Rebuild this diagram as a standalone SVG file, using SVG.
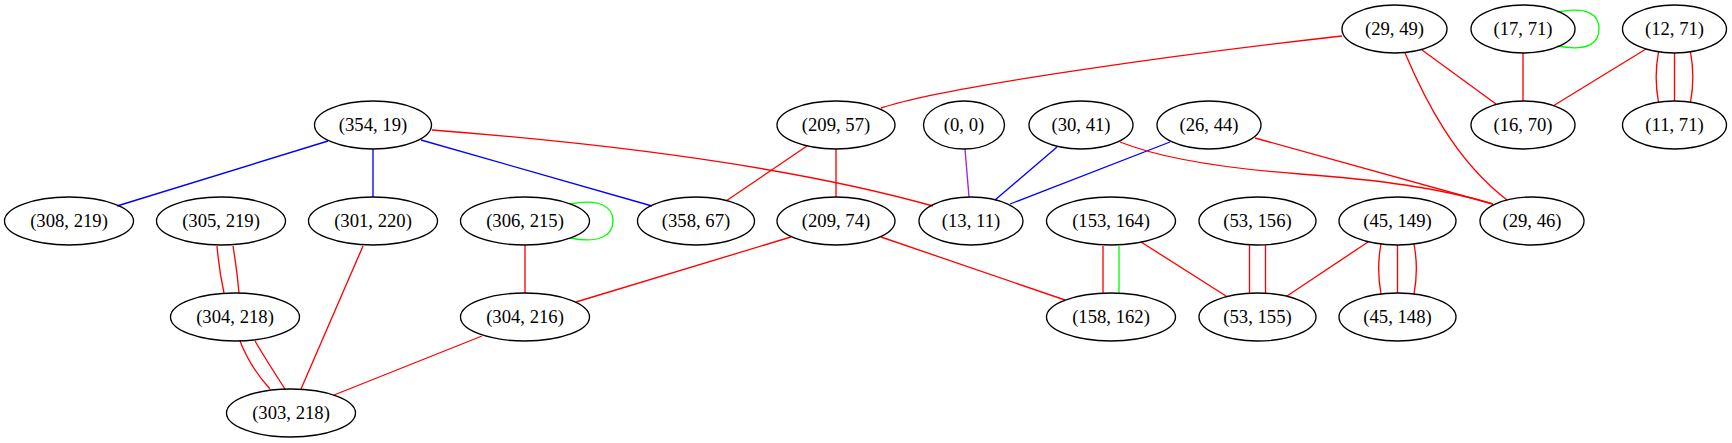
<svg xmlns="http://www.w3.org/2000/svg" width="1732" height="443" viewBox="0 0 1732 443">
<style>
.n ellipse{fill:none;stroke:#000;stroke-width:1.33}
.n text{font-family:"Liberation Serif","Times New Roman",serif;font-size:18.67px;text-anchor:middle;fill:#000}
#edges path{fill:none;stroke-width:1.33}
.r{stroke:#ff0000}
.b{stroke:#0000ff}
.g{stroke:#00ff00}
.p{stroke:#a020f0}
</style>
<rect width="1732" height="443" fill="#fff"/>
<g id="edges">
<path class="b" d="M328,141 L117,206"/>
<path class="b" d="M373,149 L373,197"/>
<path class="b" d="M421,140 L652,206"/>
<path class="r" d="M432,130 C600,143 790,166 933,206"/>
<path class="r" d="M217,246 Q219,270 224,293"/>
<path class="r" d="M233,246 Q237,270 239,293"/>
<path class="r" d="M240,341 Q250,367 270,389"/>
<path class="r" d="M255,341 Q268,363 285,389"/>
<path class="r" d="M363,246 L301,389"/>
<path class="r" d="M525,245 L525,293"/>
<path class="g" d="M570,204 C600,198 613,207 613,221 C613,235 600,244 570,238"/>
<path class="r" d="M791,237 L576,302"/>
<path class="r" d="M482,336 L334,395"/>
<path class="r" d="M1342,36 C1200,52 950,85 881,108"/>
<path class="r" d="M807,146 L726,201"/>
<path class="r" d="M836,149 L836,197"/>
<path class="p" d="M965,149 L969,197"/>
<path class="b" d="M1057,147 L995,200"/>
<path class="b" d="M1170,142 L1010,204"/>
<path class="r" d="M1120,142 C1160,158 1220,168 1300,174 C1380,180 1440,188 1493,204"/>
<path class="r" d="M1255,138 L1493,204"/>
<path class="r" d="M881,237 L1065,300"/>
<path class="r" d="M1103,246 L1103,293"/>
<path class="g" d="M1119,246 L1119,293"/>
<path class="r" d="M1141,242 L1226,296"/>
<path class="r" d="M1249.5,245 L1249.5,293"/>
<path class="r" d="M1265.5,245 L1265.5,293"/>
<path class="r" d="M1368,242 L1287,296"/>
<path class="r" d="M1381,244 C1378,260 1378,278 1381,294"/>
<path class="r" d="M1397.5,245 L1397.5,293"/>
<path class="r" d="M1414,244 C1417,260 1417,278 1414,294"/>
<path class="r" d="M1422,50 L1496,104"/>
<path class="r" d="M1405,53 C1425,100 1455,160 1507,200"/>
<path class="r" d="M1523,53 L1523,101"/>
<path class="g" d="M1557,12 C1590,6 1599,16 1599,29 C1599,42 1590,52 1557,46"/>
<path class="r" d="M1646,49 L1553,106"/>
<path class="r" d="M1658.5,52 C1655.5,68 1655.5,86 1658.5,102"/>
<path class="r" d="M1674.5,53 L1674.5,101"/>
<path class="r" d="M1690.5,52 C1693.5,68 1693.5,86 1690.5,102"/>
</g>
<g id="n29_49" class="n"><ellipse cx="1394.5" cy="29" rx="52.5" ry="24"/><text x="1394.5" y="35">(29, 49)</text></g>
<g id="n17_71" class="n"><ellipse cx="1523" cy="29" rx="52" ry="24"/><text x="1523" y="35">(17, 71)</text></g>
<g id="n12_71" class="n"><ellipse cx="1674.5" cy="29" rx="52" ry="24"/><text x="1674.5" y="35">(12, 71)</text></g>
<g id="n354_19" class="n"><ellipse cx="373" cy="125" rx="58.5" ry="24"/><text x="373" y="131">(354, 19)</text></g>
<g id="n209_57" class="n"><ellipse cx="836" cy="125" rx="59" ry="24"/><text x="836" y="131">(209, 57)</text></g>
<g id="n0_0" class="n"><ellipse cx="964" cy="125" rx="40.5" ry="24"/><text x="964" y="131">(0, 0)</text></g>
<g id="n30_41" class="n"><ellipse cx="1081" cy="125" rx="52" ry="24"/><text x="1081" y="131">(30, 41)</text></g>
<g id="n26_44" class="n"><ellipse cx="1209" cy="125" rx="52" ry="24"/><text x="1209" y="131">(26, 44)</text></g>
<g id="n16_70" class="n"><ellipse cx="1523" cy="125" rx="52" ry="24"/><text x="1523" y="131">(16, 70)</text></g>
<g id="n11_71" class="n"><ellipse cx="1674.5" cy="125" rx="52" ry="24"/><text x="1674.5" y="131">(11, 71)</text></g>
<g id="n308_219" class="n"><ellipse cx="69" cy="221" rx="64.5" ry="24"/><text x="69" y="227">(308, 219)</text></g>
<g id="n305_219" class="n"><ellipse cx="221" cy="221" rx="64.5" ry="24"/><text x="221" y="227">(305, 219)</text></g>
<g id="n301_220" class="n"><ellipse cx="373" cy="221" rx="64.5" ry="24"/><text x="373" y="227">(301, 220)</text></g>
<g id="n306_215" class="n"><ellipse cx="525" cy="221" rx="64.5" ry="24"/><text x="525" y="227">(306, 215)</text></g>
<g id="n358_67" class="n"><ellipse cx="696" cy="221" rx="58.5" ry="24"/><text x="696" y="227">(358, 67)</text></g>
<g id="n209_74" class="n"><ellipse cx="836" cy="221" rx="59" ry="24"/><text x="836" y="227">(209, 74)</text></g>
<g id="n13_11" class="n"><ellipse cx="971" cy="221" rx="52" ry="24"/><text x="971" y="227">(13, 11)</text></g>
<g id="n153_164" class="n"><ellipse cx="1111" cy="221" rx="64.5" ry="24"/><text x="1111" y="227">(153, 164)</text></g>
<g id="n53_156" class="n"><ellipse cx="1257.5" cy="221" rx="58.5" ry="24"/><text x="1257.5" y="227">(53, 156)</text></g>
<g id="n45_149" class="n"><ellipse cx="1397.5" cy="221" rx="58.5" ry="24"/><text x="1397.5" y="227">(45, 149)</text></g>
<g id="n29_46" class="n"><ellipse cx="1532" cy="221" rx="52" ry="24"/><text x="1532" y="227">(29, 46)</text></g>
<g id="n304_218" class="n"><ellipse cx="235" cy="317" rx="64.5" ry="24"/><text x="235" y="323">(304, 218)</text></g>
<g id="n304_216" class="n"><ellipse cx="525" cy="317" rx="64.5" ry="24"/><text x="525" y="323">(304, 216)</text></g>
<g id="n158_162" class="n"><ellipse cx="1111" cy="317" rx="64.5" ry="24"/><text x="1111" y="323">(158, 162)</text></g>
<g id="n53_155" class="n"><ellipse cx="1257.5" cy="317" rx="58.5" ry="24"/><text x="1257.5" y="323">(53, 155)</text></g>
<g id="n45_148" class="n"><ellipse cx="1397.5" cy="317" rx="58.5" ry="24"/><text x="1397.5" y="323">(45, 148)</text></g>
<g id="n303_218" class="n"><ellipse cx="291" cy="413" rx="64.5" ry="24"/><text x="291" y="419">(303, 218)</text></g>
</svg>
